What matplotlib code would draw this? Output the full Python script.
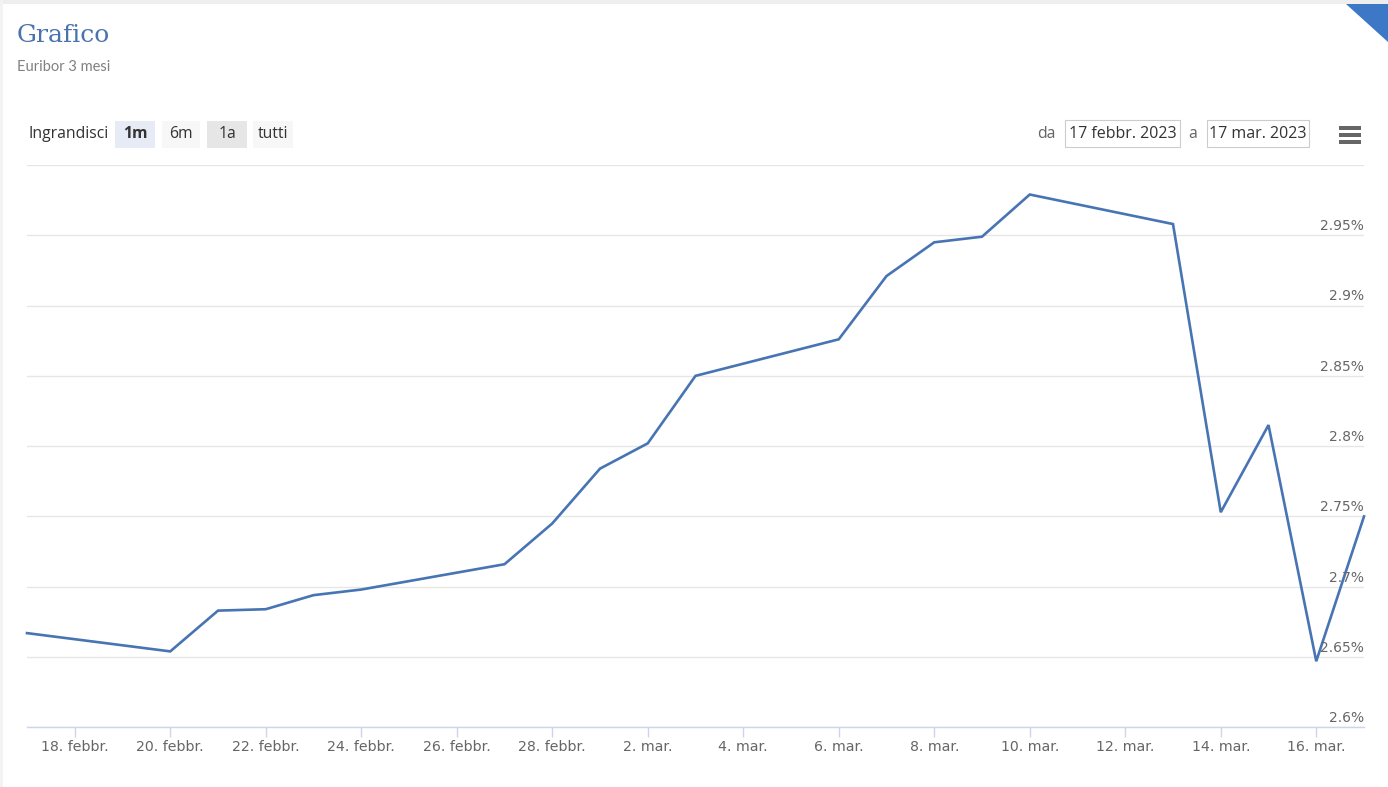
import numpy as np
import matplotlib
matplotlib.use("Agg")
import matplotlib.pyplot as plt
from matplotlib.patches import Rectangle, Polygon
from matplotlib.transforms import blended_transform_factory
from datetime import datetime

# Euribor 3 mesi, business days 17 Feb - 17 Mar 2023
dates = [
    "2023-02-17", "2023-02-20", "2023-02-21", "2023-02-22", "2023-02-23",
    "2023-02-24", "2023-02-27", "2023-02-28", "2023-03-01", "2023-03-02",
    "2023-03-03", "2023-03-06", "2023-03-07", "2023-03-08", "2023-03-09",
    "2023-03-10", "2023-03-13", "2023-03-14", "2023-03-15", "2023-03-16",
    "2023-03-17",
]
rates = [
    2.667, 2.654, 2.683, 2.684, 2.694,
    2.698, 2.716, 2.745, 2.784, 2.802,
    2.850, 2.876, 2.921, 2.945, 2.949,
    2.979, 2.958, 2.753, 2.815, 2.647,
    2.750,
]
y_ticks = [2.6, 2.65, 2.7, 2.75, 2.8, 2.85, 2.9, 2.95, 3.0]
month_names = {2: "febbr.", 3: "mar."}
range_buttons = ["1m", "6m", "1a", "tutti"]
date_from = "17 febbr. 2023"
date_to = "17 mar. 2023"

W, H = 1388, 787
LINE = "#4774b3"
GRID = "#e6e6e6"
AXIS = "#ccd6eb"
LABEL = "#666666"
UI_FONT = ["Open Sans", "DejaVu Sans"]
NARROW = ["Liberation Sans Narrow", "DejaVu Sans"]


def fx(px):
    return px / W


def fy(py):
    return 1 - py / H


fig = plt.figure(figsize=(W / 100, H / 100), dpi=100)
fig.patch.set_facecolor("white")

# frame of the widget
fig.add_artist(Rectangle((0, fy(4)), 1, 4 / H, transform=fig.transFigure,
                         facecolor="#eeeeee", edgecolor="none"))
fig.add_artist(Rectangle((0, 0), 3 / W, 1, transform=fig.transFigure,
                         facecolor="#f3f3f3", edgecolor="none"))
fig.add_artist(Polygon([(fx(1346), fy(4)), (fx(1388), fy(4)), (fx(1388), fy(42))],
                       closed=True, transform=fig.transFigure,
                       facecolor="#3d78c6", edgecolor="none"))

fig.text(fx(17), fy(36), "Grafico", fontsize=18, color="#4a72ad",
         family=["DejaVu Serif"], va="center", ha="left")
fig.text(fx(17), fy(67), "Euribor 3 mesi", fontsize=10.5, color="#808080",
         family=["Lato", "DejaVu Sans"], va="center", ha="left")

# range selector
fig.text(fx(28), fy(134), "Ingrandisci", fontsize=11.3, color="#333333",
         family=UI_FONT, va="center", ha="left")
btn_x = [115, 162, 207, 253]
btn_w = [40, 38, 40, 40]
btn_bg = ["#e6ebf5", "#f7f7f7", "#e6e6e6", "#f7f7f7"]
for label, bx, bw, bg in zip(range_buttons, btn_x, btn_w, btn_bg):
    fig.add_artist(Rectangle((fx(bx), fy(148)), bw / W, 27 / H,
                             transform=fig.transFigure, facecolor=bg, edgecolor="none"))
    fig.text(fx(bx + bw / 2), fy(134), label, fontsize=11.3, color="#333333",
             family=UI_FONT, va="center", ha="center",
             weight="bold" if label == "1m" else "normal")

fig.text(fx(1046), fy(134), "da", fontsize=11.3, color="#666666",
         family=UI_FONT, va="center", ha="center")
fig.text(fx(1193), fy(134), "a", fontsize=11.3, color="#666666",
         family=UI_FONT, va="center", ha="center")
for txt, x0, x1 in [(date_from, 1065, 1180), (date_to, 1207, 1309)]:
    fig.add_artist(Rectangle((fx(x0), fy(147)), (x1 - x0) / W, 27 / H,
                             transform=fig.transFigure, facecolor="white",
                             edgecolor="#cccccc", linewidth=0.8))
    fig.text(fx((x0 + x1) / 2), fy(134), txt, fontsize=11.5, color="#333333",
             family=UI_FONT, va="center", ha="center")
for yy in [128, 135, 142]:
    fig.add_artist(Rectangle((fx(1339), fy(yy + 1.5)), 22 / W, 3.5 / H,
                             transform=fig.transFigure, facecolor="#666666",
                             edgecolor="none"))

# plot area
ax = fig.add_axes([fx(27), fy(727.3), (1364 - 27) / W, (727.3 - 165) / H])
x = [datetime.strptime(d, "%Y-%m-%d") for d in dates]
ax.plot(x, rates, color=LINE, linewidth=1.9, solid_joinstyle="miter", clip_on=False)

ax.set_xlim(x[0], x[-1])
ax.set_ylim(y_ticks[0], y_ticks[-1])

for s in ["top", "left", "right"]:
    ax.spines[s].set_visible(False)
ax.spines["bottom"].set_color(AXIS)
ax.spines["bottom"].set_linewidth(1)

ax.set_yticks(y_ticks)
ax.tick_params(axis="y", length=0, labelleft=False)
ax.grid(axis="y", color=GRID, linewidth=1)
ax.set_axisbelow(True)

trans = blended_transform_factory(ax.transAxes, ax.transData)
for v in y_ticks[:-1]:
    ax.text(1.0, v + 0.0015, f"{v:g}%", transform=trans, ha="right", va="bottom",
            fontsize=10, color=LABEL, family=NARROW)

x_ticks = [datetime(2023, 2, d) for d in (18, 20, 22, 24, 26, 28)] + \
          [datetime(2023, 3, d) for d in (2, 4, 6, 8, 10, 12, 14, 16)]
ax.set_xticks(x_ticks)
ax.set_xticklabels([f"{d.day}. {month_names[d.month]}" for d in x_ticks], family=NARROW)
ax.tick_params(axis="x", length=7.2, width=1, color=AXIS, labelcolor=LABEL,
               labelsize=10.2, pad=2)

fig.savefig("out.png", dpi=100, facecolor="white")
